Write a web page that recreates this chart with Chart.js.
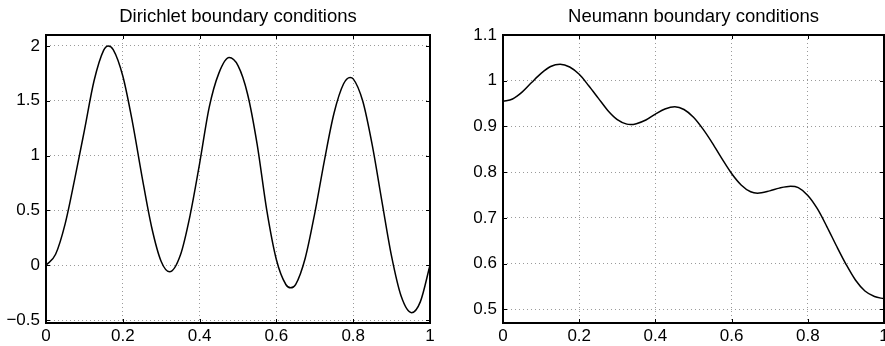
<!DOCTYPE html>
<html>
<head>
<meta charset="utf-8">
<script src="https://cdn.jsdelivr.net/npm/chart.js@4/dist/chart.umd.min.js"></script>
<style>
  html, body { margin: 0; padding: 0; background: #fff; overflow: hidden; width: 885px; height: 346px; }
  canvas { position: absolute; top: 0; }
  #c1 { left: 0; }
  #c2 { left: 445px; }
</style>
</head>
<body>
<canvas id="c1" width="445" height="346"></canvas>
<canvas id="c2" width="455" height="346"></canvas>
<script>
// ---- Data ----
const dirichletTitle = 'Dirichlet boundary conditions';
const neumannTitle = 'Neumann boundary conditions';

const dirX = [0, 0.025, 0.05, 0.075, 0.1, 0.125, 0.15, 0.162, 0.175, 0.2, 0.225, 0.25, 0.275, 0.3, 0.322, 0.35, 0.375, 0.4, 0.425, 0.45, 0.477, 0.5, 0.525, 0.55, 0.575, 0.6, 0.625, 0.637, 0.65, 0.675, 0.7, 0.725, 0.75, 0.775, 0.792, 0.8, 0.825, 0.85, 0.875, 0.9, 0.925, 0.952, 0.975, 1.0];
const dirY = [0, 0.10, 0.38, 0.79, 1.23, 1.68, 1.96, 2.0, 1.967, 1.726, 1.308, 0.809, 0.349, 0.034, -0.06, 0.093, 0.451, 0.927, 1.44, 1.75, 1.894, 1.82, 1.56, 1.10, 0.50, 0.05, -0.178, -0.206, -0.176, 0.064, 0.476, 0.955, 1.386, 1.655, 1.712, 1.70, 1.495, 1.088, 0.578, 0.08, -0.284, -0.433, -0.332, 0];

const neuX = [0, 0.025, 0.05, 0.075, 0.1, 0.125, 0.15, 0.175, 0.2, 0.225, 0.25, 0.275, 0.3, 0.325, 0.335, 0.35, 0.375, 0.4, 0.425, 0.451, 0.475, 0.5, 0.525, 0.55, 0.575, 0.6, 0.625, 0.65, 0.668, 0.7, 0.725, 0.755, 0.775, 0.8, 0.825, 0.85, 0.875, 0.9, 0.925, 0.95, 0.975, 1.0];
const neuY = [0.955, 0.960, 0.975, 0.996, 1.016, 1.031, 1.036, 1.030, 1.014, 0.989, 0.962, 0.935, 0.915, 0.905, 0.904, 0.906, 0.914, 0.927, 0.938, 0.943, 0.937, 0.920, 0.894, 0.863, 0.829, 0.797, 0.772, 0.757, 0.754, 0.759, 0.765, 0.769, 0.766, 0.749, 0.72, 0.681, 0.639, 0.599, 0.564, 0.540, 0.528, 0.523];

const xTicks = [0, 0.2, 0.4, 0.6, 0.8, 1];
const xTickLabels = ['0', '0.2', '0.4', '0.6', '0.8', '1'];
const dirYTicks = [-0.5, 0, 0.5, 1, 1.5, 2];
const dirYTickLabels = ['\u22120.5', '0', '0.5', '1', '1.5', '2'];
const neuYTicks = [0.5, 0.6, 0.7, 0.8, 0.9, 1, 1.1];
const neuYTickLabels = ['0.5', '0.6', '0.7', '0.8', '0.9', '1', '1.1'];

const dirYRange = [-0.527, 2.1];
const neuYRange = [0.47, 1.1];

// ---- Rendering ----
const FONT = "'Liberation Sans', Arial, Helvetica, sans-serif";

const framePlugin = {
  id: 'frame',
  afterDraw(chart) {
    const { ctx, chartArea: a, scales } = chart;
    const L = 4;
    ctx.save();
    ctx.strokeStyle = '#000';
    ctx.lineWidth = 1;
    ctx.beginPath();
    scales.x.ticks.forEach(t => {
      const px = Math.round(scales.x.getPixelForValue(t.value)) + 0.5;
      ctx.moveTo(px, a.bottom); ctx.lineTo(px, a.bottom - L);
      ctx.moveTo(px, a.top); ctx.lineTo(px, a.top + L);
    });
    scales.y.ticks.forEach(t => {
      const py = Math.round(scales.y.getPixelForValue(t.value)) + 0.5;
      ctx.moveTo(a.left, py); ctx.lineTo(a.left + L, py);
      ctx.moveTo(a.right, py); ctx.lineTo(a.right - L, py);
    });
    ctx.stroke();
    ctx.lineWidth = 2;
    ctx.strokeRect(a.left, a.top, a.right - a.left, a.bottom - a.top);
    ctx.restore();
  }
};

function makeChart(id, title, xs, ys, yRange, yTicks, yLabels, yWidth, rightPad) {
  const pts = xs.map((x, i) => ({ x: x, y: ys[i] }));
  return new Chart(document.getElementById(id), {
    type: 'line',
    data: {
      datasets: [{
        data: pts,
        borderColor: '#000',
        borderWidth: 1.5,
        pointRadius: 0,
        fill: false,
        cubicInterpolationMode: 'monotone'
      }]
    },
    options: {
      responsive: false,
      animation: false,
      devicePixelRatio: 1,
      layout: { padding: { left: 0, right: rightPad, top: 0, bottom: 0 } },
      plugins: {
        legend: { display: false },
        tooltip: { enabled: false },
        title: {
          display: true,
          text: title,
          fullSize: false,
          color: '#000',
          font: { family: FONT, size: 18.5, weight: 'normal', lineHeight: 1.2 },
          padding: { top: 6, bottom: 35 - 6 - 18.5 * 1.2 }
        }
      },
      scales: {
        x: {
          type: 'linear',
          min: 0, max: 1,
          afterBuildTicks: s => { s.ticks = xTicks.map(v => ({ value: v })); },
          afterFit: s => { s.height = 23; },
          grid: { color: '#9a9a9a', lineWidth: 1, drawTicks: false },
          border: { display: false, dash: [1, 3] },
          ticks: {
            color: '#000', padding: 3, maxRotation: 0, autoSkip: false,
            font: { family: FONT, size: 17 },
            callback: (v, i) => xTickLabels[i]
          }
        },
        y: {
          type: 'linear',
          min: yRange[0], max: yRange[1],
          afterBuildTicks: s => { s.ticks = yTicks.map(v => ({ value: v })); },
          afterFit: s => { s.width = yWidth; },
          grid: { color: '#9a9a9a', lineWidth: 1, drawTicks: false },
          border: { display: false, dash: [1, 3] },
          ticks: {
            color: '#000', padding: 6, autoSkip: false,
            font: { family: FONT, size: 17 },
            callback: (v, i) => yLabels[i]
          }
        }
      }
    },
    plugins: [framePlugin]
  });
}

makeChart('c1', dirichletTitle, dirX, dirY, dirYRange, dirYTicks, dirYTickLabels, 46, 15);
makeChart('c2', neumannTitle, neuX, neuY, neuYRange, neuYTicks, neuYTickLabels, 58, 16);
</script>
</body>
</html>
